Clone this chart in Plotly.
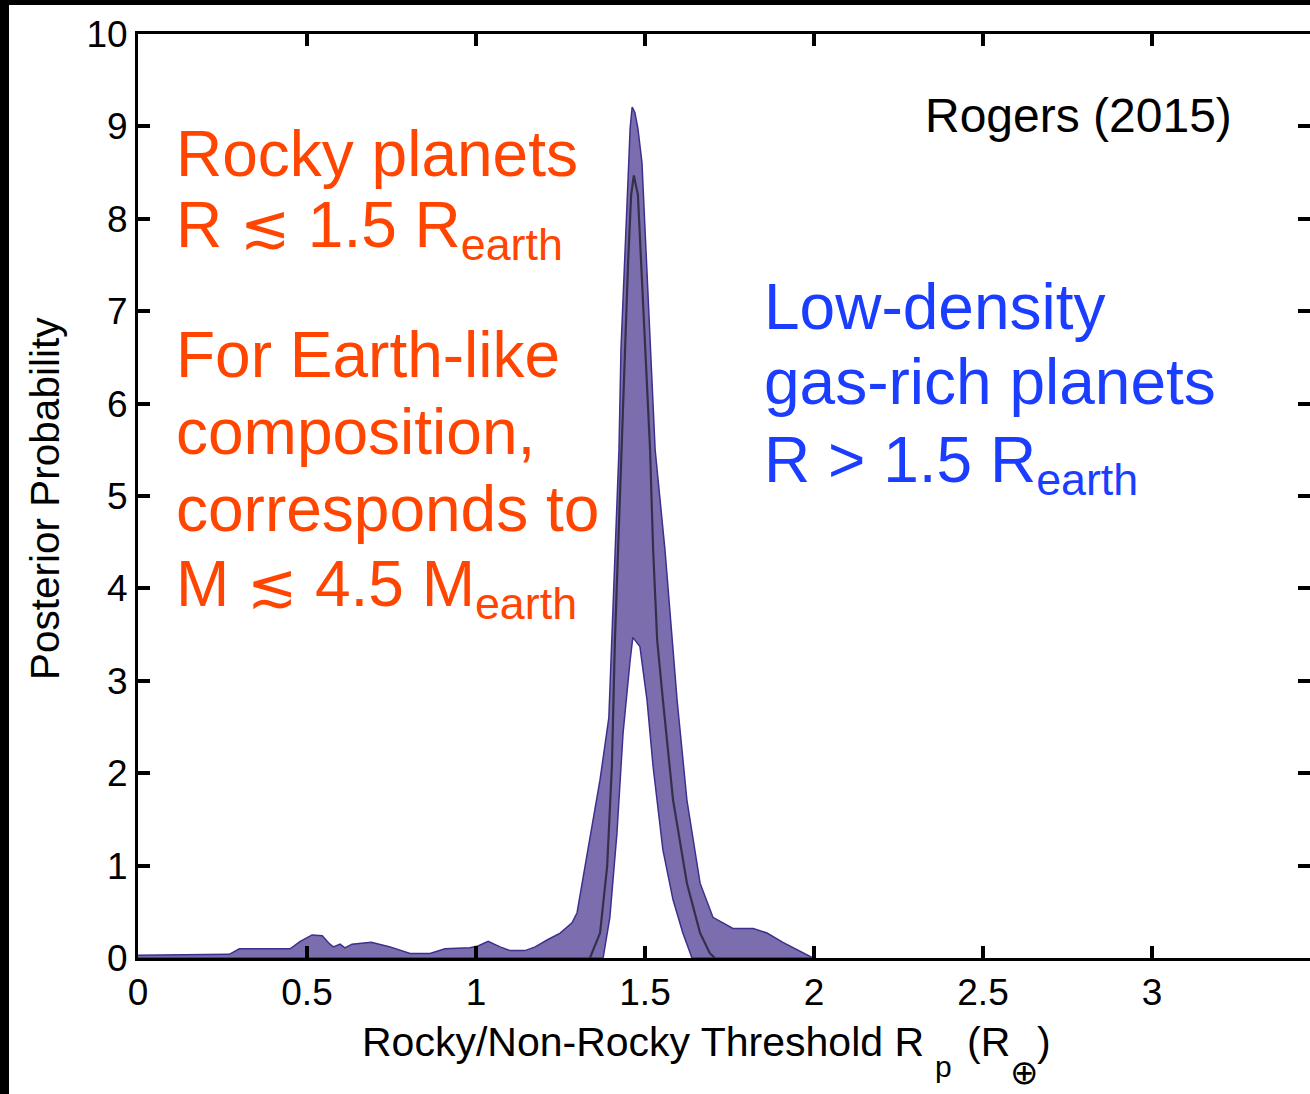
import plotly.graph_objects as go

# Posterior probability of the rocky / non-rocky transition radius (Rogers 2015)

# upper edge of the credible band
upper_x = [0.0, 0.27, 0.30, 0.45, 0.48, 0.515, 0.545, 0.565, 0.578, 0.598, 0.612, 0.633,
           0.69, 0.746, 0.805, 0.864, 0.908, 0.982, 1.006, 1.036, 1.071, 1.101, 1.145,
           1.175, 1.213, 1.249, 1.284, 1.299, 1.331, 1.367, 1.393, 1.402, 1.411, 1.423,
           1.429, 1.435, 1.444, 1.45, 1.456, 1.462, 1.470, 1.479, 1.491, 1.5, 1.509,
           1.515, 1.53, 1.559, 1.58, 1.595, 1.624, 1.663, 1.701, 1.76, 1.82, 1.861,
           1.908, 1.959, 1.997]
upper_y = [0.03, 0.04, 0.10, 0.10, 0.18, 0.25, 0.24, 0.16, 0.12, 0.15, 0.11, 0.15,
           0.17, 0.12, 0.05, 0.05, 0.10, 0.11, 0.13, 0.18, 0.12, 0.08, 0.08,
           0.12, 0.20, 0.27, 0.38, 0.49, 1.17, 1.93, 2.6, 3.44, 4.42, 5.5,
           6.6, 7.18, 7.9, 8.44, 8.98, 9.21, 9.15, 8.98, 8.61, 7.9, 7.18,
           6.58, 5.5, 4.42, 3.44, 2.79, 1.71, 0.81, 0.44, 0.32, 0.32, 0.27,
           0.17, 0.07, 0.0]

# lower edge of the credible band (zero outside the peak)
lower_x = [1.376, 1.396, 1.417, 1.435, 1.456, 1.464, 1.485, 1.506, 1.524, 1.553, 1.583, 1.612, 1.639]
lower_y = [0.0, 0.44, 1.35, 2.43, 3.22, 3.47, 3.37, 2.79, 2.07, 1.17, 0.63, 0.27, 0.0]

# median posterior
median_x = [1.337, 1.367, 1.388, 1.402, 1.411, 1.42, 1.432, 1.441, 1.45, 1.459, 1.467,
            1.479, 1.488, 1.5, 1.515, 1.524, 1.536, 1.553, 1.583, 1.624, 1.663, 1.692, 1.707]
median_y = [0.0, 0.27, 0.99, 2.07, 3.44, 4.42, 5.5, 6.58, 7.53, 8.26, 8.47,
            8.26, 7.53, 6.58, 5.5, 4.42, 3.44, 2.79, 1.71, 0.81, 0.27, 0.05, 0.0]

x_tickvals = [0, 0.5, 1, 1.5, 2, 2.5, 3]
x_ticktext = ["0", "0.5", "1", "1.5", "2", "2.5", "3"]
y_tickvals = [0, 1, 2, 3, 4, 5, 6, 7, 8, 9, 10]
y_ticktext = ["0", "1", "2", "3", "4", "5", "6", "7", "8", "9", "10"]

# ---- page geometry (pixels) ----
W, H = 1310, 1094
L, R, T, B = 138, 0, 34, 136
PW, PH = W - L - R, H - T - B
FONT = "Liberation Sans, Arial, Helvetica, sans-serif"
ORANGE = "#FF4500"
BLUE = "#1A3DFF"
LESSSIM = '<span style="font-size:60px">≲</span>'


def px_x(px):
    return (px - L) / PW


def px_y(py):
    return (H - B - py) / PH


def text_line(text, left, baseline, size, color, ref_top=0.905):
    """Single line of text placed by its left edge and baseline (pixels)."""
    return dict(text=text, x=px_x(left), y=px_y(baseline - 2 - ref_top * size),
                xref="paper", yref="paper", xanchor="left", yanchor="top",
                showarrow=False, borderpad=0,
                font=dict(family=FONT, size=size, color=color))


band_x = upper_x + lower_x[::-1] + [0.0]
band_y = upper_y + lower_y[::-1] + [0.0]

fig = go.Figure()
fig.add_trace(go.Scatter(x=band_x, y=band_y, mode="lines", fill="toself",
                         fillcolor="#7C6EAE", line=dict(color="#3D2F8E", width=1.5),
                         showlegend=False, hoverinfo="skip"))
fig.add_trace(go.Scatter(x=median_x, y=median_y, mode="lines",
                         line=dict(color="#35304A", width=2.2),
                         showlegend=False, hoverinfo="skip"))
# carrier for the right-hand tick axis
fig.add_trace(go.Scatter(x=[None], y=[None], yaxis="y2", showlegend=False, hoverinfo="skip"))

axis_style = dict(ticks="inside", ticklen=12, tickwidth=4, tickcolor="black",
                  showline=True, linewidth=3, linecolor="black",
                  showgrid=False, zeroline=False,
                  tickfont=dict(family=FONT, size=37, color="black"))

fig.update_layout(
    width=W, height=H, autosize=False,
    margin=dict(l=L, r=R, t=T, b=B, pad=0),
    paper_bgcolor="white", plot_bgcolor="white",
    xaxis=dict(range=[0, (W - L) / 338.0], tickvals=x_tickvals, ticktext=x_ticktext,
               mirror="ticks", **axis_style),
    yaxis=dict(range=[0, 10], tickvals=y_tickvals, ticktext=y_ticktext,
               mirror=False, **axis_style),
    yaxis2=dict(range=[0, 10], tickvals=y_tickvals, overlaying="y", side="right",
                ticks="inside", ticklen=12, tickwidth=4, tickcolor="black",
                showticklabels=False, showline=False, showgrid=False, zeroline=False),
)

annotations = [
    text_line("Rocky planets", 175, 177, 64, ORANGE),
    text_line(f"R {LESSSIM} 1.5 R<sub>earth</sub>", 175, 248, 64, ORANGE),
    text_line("For Earth-like", 175, 378, 64, ORANGE),
    text_line("composition,", 175, 455, 64, ORANGE),
    text_line("corresponds to", 175, 532, 64, ORANGE),
    text_line(f"M {LESSSIM} 4.5 M<sub>earth</sub>", 175, 607, 64, ORANGE),
    text_line("Low-density", 763, 330, 64, BLUE),
    text_line("gas-rich planets", 763, 405, 64, BLUE),
    text_line("R &gt; 1.5 R<sub>earth</sub>", 763, 483, 64, BLUE),
    text_line("Rogers (2015)", 924, 133, 48, "black"),
    # x-axis title, assembled piecewise for the low subscripts
    text_line("Rocky/Non-Rocky Threshold R", 361, 1057, 41, "black"),
    text_line("p", 934, 1078, 30, "black"),
    text_line("(R", 966, 1057, 41, "black"),
    text_line(")", 1036, 1057, 41, "black"),
    dict(text="⊕", x=px_x(1024), y=px_y(1072), xref="paper", yref="paper",
         xanchor="center", yanchor="middle", showarrow=False, borderpad=0,
         font=dict(family="DejaVu Sans", size=34, color="black")),
    # y-axis title
    dict(text="Posterior Probability", x=px_x(45), y=px_y(499), xref="paper", yref="paper",
         xanchor="center", yanchor="middle", textangle=-90, showarrow=False, borderpad=0,
         font=dict(family=FONT, size=40.5, color="black")),
]
fig.update_layout(annotations=annotations)

# dark frame along the left and top edges of the page
fig.update_layout(shapes=[
    dict(type="rect", xref="paper", yref="paper", x0=px_x(0), x1=px_x(9),
         y0=px_y(H), y1=px_y(0), fillcolor="black", line=dict(width=0), layer="above"),
    dict(type="rect", xref="paper", yref="paper", x0=px_x(0), x1=px_x(W),
         y0=px_y(5), y1=px_y(0), fillcolor="black", line=dict(width=0), layer="above"),
])

fig.write_html("out.html", config={"displayModeBar": False})
